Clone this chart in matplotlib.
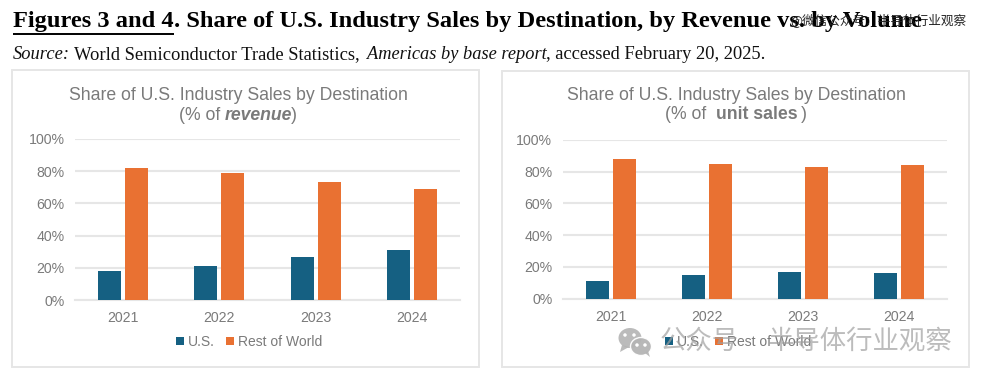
import matplotlib
matplotlib.use("Agg")
import matplotlib.pyplot as plt
from matplotlib.patches import Rectangle, Ellipse, Polygon
import numpy as np

years = ["2021", "2022", "2023", "2024"]
rev_us = [18, 21, 27, 31]
rev_row = [82, 79, 73, 69]
unit_us = [11, 15, 17, 16]
unit_row = [88, 85, 83, 84]
yticks = [0, 20, 40, 60, 80, 100]

W, H = 984, 379
SANS = "Liberation Sans"
SERIF = "Liberation Serif"
GREY = "#7a7a7a"
BLUE = "#156082"
ORANGE = "#E97132"
GRID = "#e6e6e6"

fig = plt.figure(figsize=(W / 100, H / 100), dpi=100, facecolor="white")
bg = fig.add_axes([0, 0, 1, 1], zorder=0)
bg.set_xlim(0, W)
bg.set_ylim(H, 0)
bg.axis("off")


def label(x, y, s, **kw):
    kw.setdefault("va", "center")
    return bg.text(x, y, s, **kw)


# Heading
label(13, 22, "Figures 3 and 4", family=SERIF, weight="bold", fontsize=17.6, color="black")
bg.plot([13, 174], [33.5, 33.5], color="black", lw=1.4, solid_capstyle="butt")
label(174, 22, ". Share of U.S. Industry Sales by Destination, by Revenue vs. by Volume",
      family=SERIF, weight="bold", fontsize=17.6, color="black")
label(13, 54.5, "Source:", family=SERIF, style="italic", fontsize=13.3, color="#111111")
label(74, 54.5, "World Semiconductor Trade Statistics,", family=SERIF, fontsize=13.3, color="#111111")
label(367, 54.5, "Americas by base report", family=SERIF, style="italic", fontsize=13.2, color="#111111")
label(546, 54.5, ", accessed February 20, 2025.", family=SERIF, fontsize=13.3, color="#111111")
label(790, 20, "@微信公众号：半导体行业观察", family=["Noto Sans CJK SC", "DejaVu Sans"],
      fontsize=9.1, color="#222222", zorder=6)


def panel(box, plot, top, base, us, row, bar_w, t1x, t1y, t2, leg_x, leg_y):
    x0, y0, x1, y1 = box
    bg.add_patch(Rectangle((x0, y0), x1 - x0, y1 - y0, fc="white", ec="#e6e6e6", lw=1.4))
    ax = fig.add_axes([plot[0] / W, 1 - base / H, (plot[1] - plot[0]) / W, (base - top) / H],
                      zorder=2)
    ax.patch.set_alpha(0)
    xs = np.arange(len(years))
    ax.bar(xs - 0.141, us, bar_w, color=BLUE, label="U.S.", zorder=3)
    ax.bar(xs + 0.141, row, bar_w, color=ORANGE, label="Rest of World", zorder=3)
    ax.set_xlim(-0.5, 3.5)
    ax.set_ylim(0, 100)
    ax.set_yticks(yticks)
    ax.set_yticklabels([f"{v}%" for v in yticks])
    ax.set_xticks(xs)
    ax.set_xticklabels(years)
    ax.grid(axis="y", color=GRID, lw=1.5, zorder=0)
    ax.set_axisbelow(True)
    for s in ("top", "right", "left"):
        ax.spines[s].set_visible(False)
    ax.spines["bottom"].set_color(GRID)
    ax.spines["bottom"].set_linewidth(1.5)
    ax.tick_params(length=0, colors=GREY, labelsize=10.2)
    ax.tick_params(axis="y", pad=7.5)
    ax.tick_params(axis="x", pad=8)
    for t in ax.get_xticklabels() + ax.get_yticklabels():
        t.set_family(SANS)
    label(t1x, t1y + 1, "Share of U.S. Industry Sales by Destination", family=SANS,
          fontsize=12.7, color=GREY, ha="center")
    for (px, s, kw) in t2:
        label(px, t1y + 20.5, s, family=SANS, fontsize=12.7, color=GREY, **kw)
    leg = ax.legend(loc="center",
                    bbox_to_anchor=((leg_x - plot[0]) / (plot[1] - plot[0]),
                                    (base - leg_y) / (base - top)),
                    ncol=2, frameon=False, handlelength=0.58, handleheight=0.58,
                    handletextpad=0.25, columnspacing=0.85,
                    prop={"family": SANS, "size": 10})
    for t in leg.get_texts():
        t.set_color(GREY)


panel((12, 70, 479, 367), (75, 460), 138.7, 300.3, rev_us, rev_row, 0.239, 238, 95,
      [(179, "(% of ", {}), (224.5, "revenue", {"weight": "bold", "style": "italic"}),
       (291, ")", {})], 249, 342)
panel((502, 71, 969, 367), (562.7, 947.3), 140, 298.5, unit_us, unit_row, 0.239, 736, 94,
      [(665, "(% of ", {}), (715.5, "unit sales", {"weight": "bold"}), (801, ")", {})], 738, 342)

# Bottom watermark
wm = fig.add_axes([0, 0, 1, 1], zorder=5)
wm.set_xlim(0, W)
wm.set_ylim(H, 0)
wm.axis("off")
wm.add_patch(Ellipse((630, 338), 23, 20, fc="#b4b4b4", ec="none", alpha=0.9))
wm.add_patch(Polygon([[622, 345], [620, 352], [629, 347]], fc="#b4b4b4", ec="none", alpha=0.9))
wm.add_patch(Ellipse((641, 346.5), 21, 18, fc="#b4b4b4", ec="white", lw=1, alpha=0.95))
wm.add_patch(Polygon([[645, 353], [650, 357], [648, 351]], fc="#b4b4b4", ec="none", alpha=0.9))
for cx, cy in [(625, 335), (634, 335), (637, 345), (645, 345)]:
    wm.add_patch(Ellipse((cx, cy), 3.5, 3.5, fc="white", ec="none"))
wm.text(660, 341.5, "公众号", family=["Noto Sans CJK SC", "DejaVu Sans"], fontsize=19,
        color="#a0a0a0", alpha=0.7, va="center")
wm.text(768, 341.5, "半导体行业观察", family=["Noto Sans CJK SC", "DejaVu Sans"], fontsize=19,
        color="#a0a0a0", alpha=0.7, va="center")

fig.savefig("out.png", dpi=100, facecolor="white")
